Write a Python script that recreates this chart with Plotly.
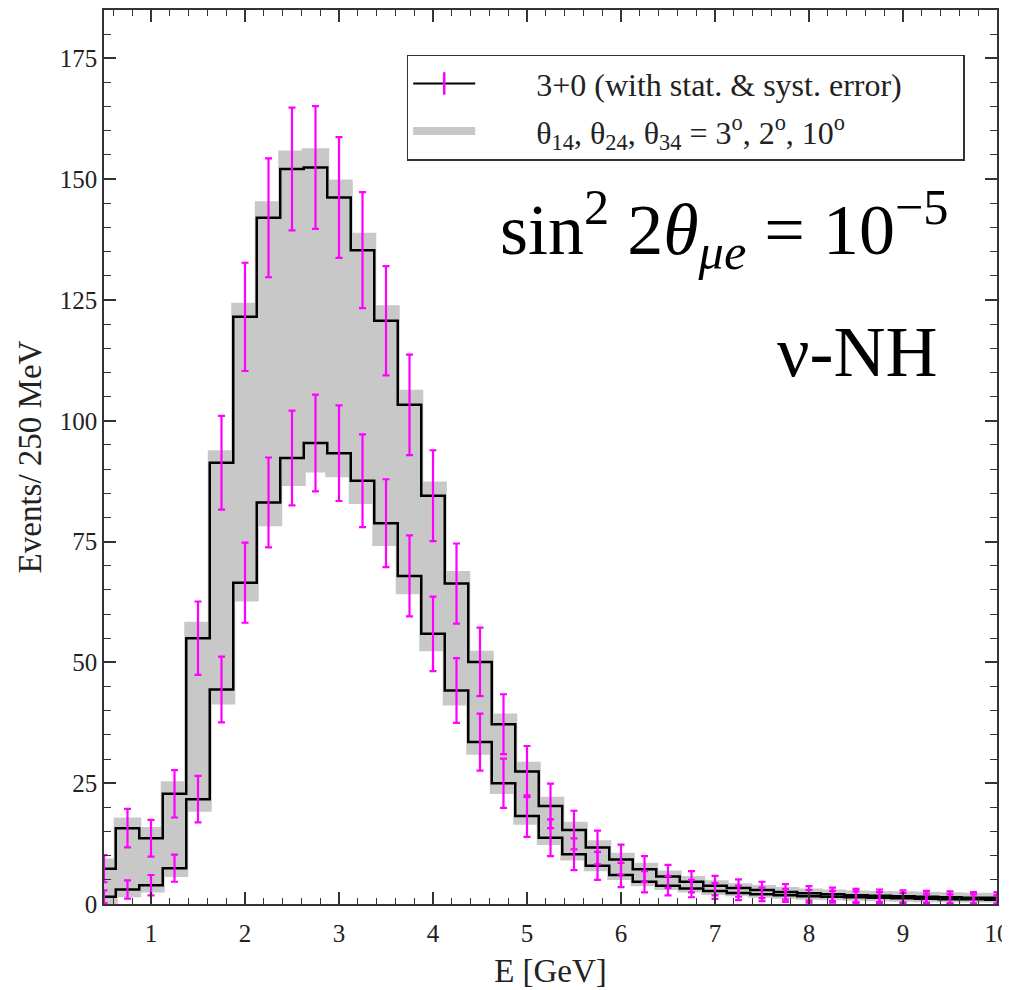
import plotly.graph_objects as go

# bin centres (GeV), 250 MeV bins
E_centers = [0.5, 0.75, 1.0, 1.25, 1.5, 1.75, 2.0, 2.25, 2.5, 2.75, 3.0, 3.25, 3.5, 3.75,
             4.0, 4.25, 4.5, 4.75, 5.0, 5.25, 5.5, 5.75, 6.0, 6.25, 6.5, 6.75, 7.0, 7.25,
             7.5, 7.75, 8.0, 8.25, 8.5, 8.75, 9.0, 9.25, 9.5, 9.75, 10.0]

# 3+0 upper histogram and its error
upper_3p0 = [7.3, 15.7, 13.6, 22.8, 55.0, 91.3, 121.5, 142.0, 152.1, 152.4, 146.2, 135.3, 120.7, 103.3,
             84.5, 66.3, 50.1, 37.2, 27.4, 20.3, 15.3, 11.7, 9.2, 7.2, 5.7, 4.6, 3.8, 3.3,
             2.9, 2.5, 2.2, 2.0, 1.8, 1.7, 1.6, 1.5, 1.4, 1.3, 1.3]
upper_err = [2.8, 4.0, 3.8, 4.9, 7.6, 9.7, 11.2, 12.3, 12.7, 12.7, 12.5, 12.0, 11.3, 10.4,
             9.4, 8.3, 7.1, 6.2, 5.3, 4.6, 4.0, 3.5, 3.1, 2.7, 2.4, 2.2, 2.0, 1.8,
             1.7, 1.6, 1.5, 1.4, 1.35, 1.3, 1.25, 1.2, 1.2, 1.15, 1.15]

# 3+0 lower histogram and its error
lower_3p0 = [1.5, 3.0, 3.9, 7.4, 21.7, 44.4, 66.5, 83.1, 92.3, 95.4, 93.3, 87.6, 78.8, 67.9,
             55.9, 44.2, 33.5, 25.0, 18.2, 13.7, 10.3, 7.9, 6.0, 4.6, 3.8, 3.2, 2.7, 2.3,
             2.0, 1.8, 1.6, 1.5, 1.4, 1.3, 1.2, 1.1, 1.0, 1.0, 0.9]
lower_err = [1.3, 1.9, 2.1, 2.8, 4.8, 6.8, 8.3, 9.3, 9.8, 10.0, 9.9, 9.6, 9.1, 8.4,
             7.7, 6.7, 5.9, 5.1, 4.3, 3.8, 3.3, 2.9, 2.5, 2.2, 2.0, 1.8, 1.65, 1.5,
             1.4, 1.35, 1.3, 1.2, 1.2, 1.15, 1.1, 1.05, 1.0, 1.0, 0.95]

# sterile band (theta14, theta24, theta34 = 3, 2, 10 deg)
band_hi = [9.0, 17.5, 15.5, 25.0, 58.0, 93.5, 124.0, 145.0, 155.5, 156.0, 149.5, 138.5, 123.5, 106.0,
           87.0, 68.5, 52.0, 39.0, 29.0, 21.8, 16.6, 12.8, 10.2, 8.1, 6.5, 5.4, 4.5, 3.9,
           3.5, 3.1, 2.8, 2.6, 2.4, 2.3, 2.2, 2.1, 2.0, 1.9, 1.9]
band_lo = [0.3, 1.8, 2.8, 6.0, 19.5, 41.7, 63.0, 78.6, 86.9, 89.7, 88.7, 83.2, 74.5, 64.5,
           52.7, 41.5, 31.3, 23.2, 16.8, 12.6, 9.4, 7.2, 5.4, 4.1, 3.3, 2.8, 2.3, 2.0,
           1.7, 1.5, 1.3, 1.2, 1.1, 1.0, 0.9, 0.8, 0.8, 0.7, 0.7]

x_ticks = [1, 2, 3, 4, 5, 6, 7, 8, 9, 10]
y_ticks = [0, 25, 50, 75, 100, 125, 150, 175]

FONT = "Liberation Serif"
GREY = "#c8c8c8"
MAG = "#ff00ff"
LEAD = "\u00a0" * 7
PAD = "\u00a0" * 7

fig = go.Figure()

# grey band
fig.add_trace(go.Scatter(x=E_centers, y=band_lo, mode="lines",
                         line=dict(shape="hvh", color=GREY, width=4),
                         showlegend=False, hoverinfo="skip"))
fig.add_trace(go.Scatter(x=E_centers, y=band_hi, mode="lines",
                         line=dict(shape="hvh", color=GREY, width=4),
                         fill="tonexty", fillcolor=GREY,
                         name=LEAD + "θ<sub>14</sub>, θ<sub>24</sub>, θ<sub>34</sub> = 3<sup>o</sup>, 2<sup>o</sup>, 10<sup>o</sup>",
                         legendrank=2, legendgroup="b"))

# black histograms
for yv in (upper_3p0, lower_3p0):
    fig.add_trace(go.Scatter(x=E_centers, y=yv, mode="lines",
                             line=dict(shape="hvh", color="black", width=2.5),
                             showlegend=False, hoverinfo="skip"))

# error bars
for yv, ev in ((upper_3p0, upper_err), (lower_3p0, lower_err)):
    fig.add_trace(go.Scatter(x=E_centers, y=yv, mode="markers",
                             marker=dict(size=1, color=MAG),
                             error_y=dict(type="data", array=ev, color=MAG,
                                          thickness=2.2, width=3.5),
                             showlegend=False))

# legend entry for the 3+0 histograms
fig.add_trace(go.Scatter(x=[None], y=[None], mode="lines+markers",
                         line=dict(color="black", width=2),
                         marker=dict(symbol="line-ns-open", size=28, color=MAG,
                                     line=dict(color=MAG, width=2.5)),
                         name=LEAD + "3+0 (with stat. &amp; syst. error)" + PAD,
                         legendrank=1, legendgroup="a"))

axis_common = dict(showline=True, linecolor="#333", linewidth=1.5, mirror="ticks",
                   ticks="inside", tickcolor="#333", tickwidth=1.5, ticklen=12,
                   showgrid=False, zeroline=False, automargin=False,
                   tickfont=dict(family=FONT, size=25, color="#222"))

fig.update_xaxes(range=[0.5, 10], tickvals=x_ticks, ticktext=[str(v) for v in x_ticks],
                 minor=dict(dtick=0.2, tick0=0, ticks="inside", ticklen=6,
                            tickcolor="#333", tickwidth=1.2),
                 ticklabelstandoff=6,
                 title=dict(text="E [GeV]", font=dict(family=FONT, size=33, color="#222"),
                            standoff=13),
                 **axis_common)
fig.update_yaxes(range=[0, 185], tickvals=y_ticks, ticktext=[str(v) for v in y_ticks],
                 minor=dict(dtick=5, tick0=0, ticks="inside", ticklen=7,
                            tickcolor="#333", tickwidth=1.2),
                 ticklabelstandoff=0,
                 title=dict(text="Events/ 250 MeV", font=dict(family=FONT, size=33, color="#222"),
                            standoff=8),
                 **axis_common)

fig.add_annotation(text="sin<sup>2</sup> 2<i>θ</i><sub><i>μe</i></sub> = 10<sup>−5</sup>",
                   xref="paper", yref="paper", x=0.948, y=0.755,
                   xanchor="right", yanchor="middle", showarrow=False,
                   font=dict(family=FONT, size=72, color="black"))
fig.add_annotation(text="ν-NH", xref="paper", yref="paper", x=0.936, y=0.618,
                   xanchor="right", yanchor="middle", showarrow=False,
                   font=dict(family=FONT, size=72, color="black"))

# the page adds an 8 px body margin, so the figure is 8 px smaller
fig.update_layout(
    width=1002, height=982,
    margin=dict(l=96, r=13, t=2, b=86),
    paper_bgcolor="white", plot_bgcolor="white",
    showlegend=True,
    legend=dict(x=0.339, y=0.950, xanchor="left", yanchor="top",
                bgcolor="white", bordercolor="#333", borderwidth=1.5,
                font=dict(family=FONT, size=32, color="#222"),
                tracegroupgap=3, itemwidth=62),
)

fig.write_html("out.html")
